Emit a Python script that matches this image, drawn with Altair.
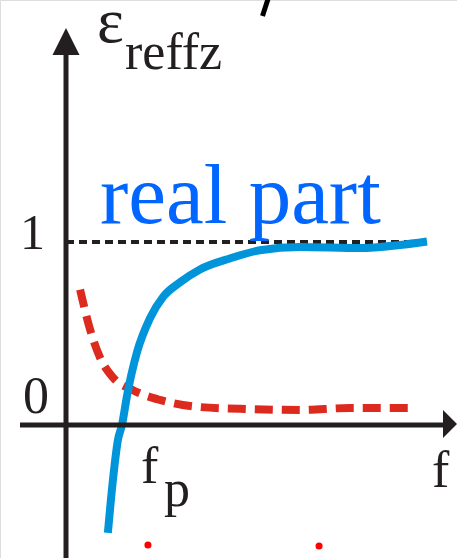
import altair as alt
import pandas as pd

# Real part of the effective permittivity versus frequency
freq_real = [1.16, 1.30, 1.44, 1.55, 1.69, 1.97, 2.33, 2.69, 3.16, 3.71, 4.54, 5.37, 6.48, 8.14, 9.25, 10.0]
eps_real = [-0.59, -0.30, -0.08, 0.0, 0.16, 0.40, 0.585, 0.70, 0.78, 0.85, 0.91, 0.955, 0.973, 0.967, 0.984, 1.003]

# Imaginary (loss) part, drawn dashed
freq_imag = [0.39, 0.67, 0.94, 1.30, 1.86, 2.60, 3.71, 5.10, 6.48, 7.87, 9.61]
eps_imag = [0.74, 0.52, 0.37, 0.26, 0.19, 0.137, 0.098, 0.087, 0.082, 0.093, 0.093]

# Reference level eps = 1
unity_f = [0.0, 10.06]
unity_eps = 1.0

# Axes of the sketch
y_axis_f = 0.0
y_axis_eps = [-0.727, 2.022]
x_axis_eps = 0.0
x_axis_f = [-1.274, 10.443]
arrow_up = (0.0, 2.096)
arrow_right = (10.637, 0.005)

# Small red markers below the axis
dot_f = [2.27, 7.01]
dot_eps = [-0.656, -0.661]

# Stroke of a cut-off glyph at the top
slash_f = [5.596, 5.443]
slash_eps = [2.328, 2.235]

# Labels: text, position, font size, colour
label_text = ["1", "0", "real part", "ε", "reffz", "f", "p", "f"]
label_f = [-1.274, -1.191, 0.942, 0.859, 1.634, 2.078, 2.715, 10.139]
label_eps = [0.962, 0.066, 1.104, 2.093, 1.945, -0.317, -0.443, -0.339]
label_size = [50, 52, 85, 64, 52, 52, 52, 52]
label_color = ["#231f20", "#231f20", "#0066ff", "#231f20", "#231f20", "#231f20", "#231f20", "#231f20"]

INK = "#231f20"
SERIF = "Times New Roman, Liberation Serif, DejaVu Serif, serif"
xs = alt.Scale(domain=[-1.8283, 10.8310], nice=False, zero=False)
ys = alt.Scale(domain=[-0.72678, 2.32240], nice=False, zero=False)

def X(field="f"):
    return alt.X(f"{field}:Q", scale=xs, axis=None)

def Y(field="eps"):
    return alt.Y(f"{field}:Q", scale=ys, axis=None)

real_df = pd.DataFrame({"f": freq_real, "eps": eps_real, "i": range(len(freq_real))})
imag_df = pd.DataFrame({"f": freq_imag, "eps": eps_imag, "i": range(len(freq_imag))})

axes_df = pd.DataFrame({
    "f": [y_axis_f, x_axis_f[0]],
    "f2": [y_axis_f, x_axis_f[1]],
    "eps": [y_axis_eps[0], x_axis_eps],
    "eps2": [y_axis_eps[1], x_axis_eps],
})
axes = alt.Chart(axes_df).mark_rule(color=INK, strokeWidth=5).encode(
    x=X(), x2="f2:Q", y=Y(), y2="eps2:Q"
)

unity_df = pd.DataFrame({"f": [unity_f[0]], "f2": [unity_f[1]], "eps": [unity_eps]})
unity = alt.Chart(unity_df).mark_rule(color=INK, strokeWidth=4, strokeDash=[8, 5]).encode(
    x=X(), x2="f2:Q", y=Y()
)

up_df = pd.DataFrame({"f": [arrow_up[0]], "eps": [arrow_up[1]]})
up = alt.Chart(up_df).mark_point(
    shape="M-1,1L1,1L0,-1Z", size=729, filled=True, color=INK, opacity=1, strokeWidth=0
).encode(x=X(), y=Y())

right_df = pd.DataFrame({"f": [arrow_right[0]], "eps": [arrow_right[1]]})
right = alt.Chart(right_df).mark_point(
    shape="M-0.5,-1L0.5,0L-0.5,1Z", size=784, filled=True, color=INK, opacity=1, strokeWidth=0
).encode(x=X(), y=Y())

imag = alt.Chart(imag_df).mark_line(
    color="#dc2a1f", strokeWidth=8, strokeDash=[18, 9], interpolate="monotone", strokeCap="butt"
).encode(x=X(), y=Y(), order="i:Q")

real = alt.Chart(real_df).mark_line(
    color="#0095db", strokeWidth=8, interpolate="monotone", strokeCap="butt"
).encode(x=X(), y=Y(), order="i:Q")

dots_df = pd.DataFrame({"f": dot_f, "eps": dot_eps})
dots = alt.Chart(dots_df).mark_point(
    shape="circle", size=50, filled=True, color="#ff0000", opacity=1, strokeWidth=0
).encode(x=X(), y=Y())

slash_df = pd.DataFrame({"f": [slash_f[0]], "f2": [slash_f[1]], "eps": [slash_eps[0]], "eps2": [slash_eps[1]]})
slash = alt.Chart(slash_df).mark_rule(color="#000000", strokeWidth=5).encode(
    x=X(), x2="f2:Q", y=Y(), y2="eps2:Q"
)

labels_df = pd.DataFrame({
    "text": label_text, "f": label_f, "eps": label_eps,
    "size": label_size, "color": label_color,
})
labels = alt.Chart(labels_df).mark_text(
    align="left", baseline="alphabetic", font=SERIF
).encode(
    x=X(), y=Y(), text="text:N",
    size=alt.Size("size:Q", scale=None),
    color=alt.Color("color:N", scale=None),
)

chart = alt.layer(
    unity, imag, real, axes, up, right, dots, slash, labels
).properties(
    width=457, height=558,
    autosize=alt.AutoSizeParams(type="none"),
    padding=0,
).configure_view(stroke=None).configure(background="white")

chart.save("out.html", embed_options={"renderer": "svg", "actions": False})
